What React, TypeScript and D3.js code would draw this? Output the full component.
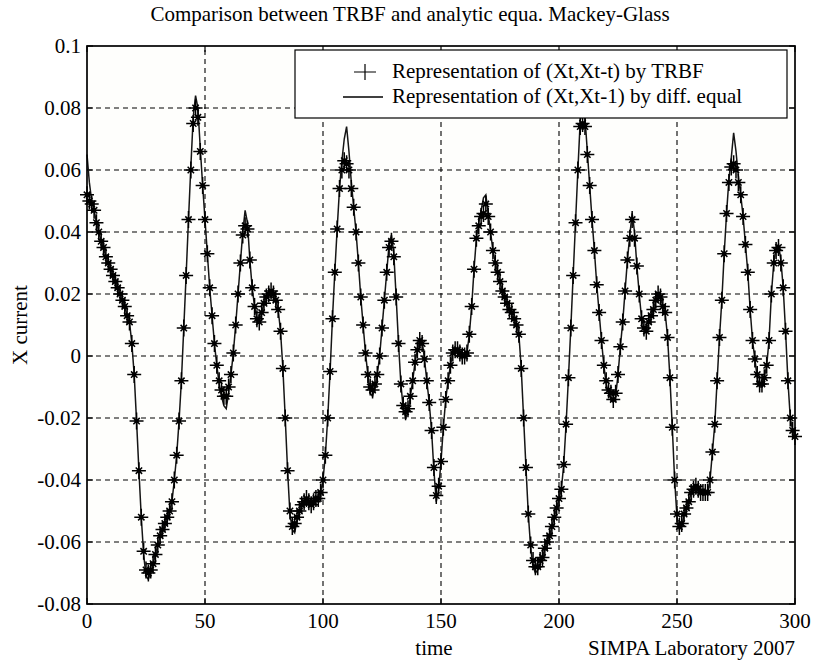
import React from 'react'
import * as d3 from 'd3'

// time axis: one sample per step, 0..300
const xTicks = [0, 50, 100, 150, 200, 250, 300]
const yTicks = [-0.08, -0.06, -0.04, -0.02, 0, 0.02, 0.04, 0.06, 0.08, 0.1]
const yTickLabels = ['-0.08', '-0.06', '-0.04', '-0.02', '0', '0.02', '0.04', '0.06', '0.08', '0.1']

const titleText = 'Comparison between TRBF and analytic equa. Mackey-Glass'
const legendLabels = ['Representation of (Xt,Xt-t) by TRBF', 'Representation of (Xt,Xt-1) by diff. equal']

// TRBF output (+ markers)
const trbf = [
  0.052, 0.050, 0.049, 0.047, 0.043, 0.040, 0.037, 0.035, 0.032, 0.030,
  0.028, 0.026, 0.024, 0.022, 0.020, 0.018, 0.016, 0.013, 0.011, 0.004,
  -0.006, -0.021, -0.037, -0.052, -0.063, -0.069, -0.070, -0.069, -0.067, -0.064,
  -0.061, -0.058, -0.056, -0.054, -0.052, -0.050, -0.047, -0.040, -0.032, -0.021,
  -0.008, 0.009, 0.026, 0.044, 0.060, 0.075, 0.080, 0.077, 0.066, 0.055,
  0.044, 0.033, 0.022, 0.013, 0.004, -0.003, -0.008, -0.011, -0.013, -0.013,
  -0.010, -0.006, 0.001, 0.010, 0.020, 0.030, 0.039, 0.042, 0.041, 0.031,
  0.022, 0.016, 0.012, 0.011, 0.014, 0.017, 0.019, 0.020, 0.021, 0.020,
  0.018, 0.015, 0.008, -0.004, -0.020, -0.037, -0.050, -0.055, -0.054, -0.052,
  -0.050, -0.048, -0.047, -0.046, -0.047, -0.048, -0.047, -0.046, -0.046, -0.044,
  -0.040, -0.032, -0.020, -0.005, 0.012, 0.027, 0.041, 0.054, 0.060, 0.063,
  0.062, 0.060, 0.054, 0.048, 0.040, 0.030, 0.019, 0.010, 0.001, -0.006,
  -0.010, -0.011, -0.009, -0.006, 0.000, 0.009, 0.018, 0.027, 0.035, 0.037,
  0.032, 0.019, 0.004, -0.009, -0.016, -0.018, -0.017, -0.013, -0.008, -0.002,
  0.002, 0.005, 0.004, -0.001, -0.008, -0.015, -0.024, -0.036, -0.045, -0.042,
  -0.034, -0.023, -0.014, -0.008, -0.003, 0.001, 0.002, 0.002, 0.001, 0.000,
  0.000, 0.001, 0.007, 0.016, 0.028, 0.038, 0.042, 0.045, 0.046, 0.049,
  0.045, 0.040, 0.034, 0.030, 0.027, 0.024, 0.021, 0.019, 0.017, 0.015,
  0.014, 0.012, 0.010, 0.007, -0.004, -0.020, -0.036, -0.051, -0.061, -0.066,
  -0.068, -0.068, -0.066, -0.065, -0.062, -0.060, -0.058, -0.055, -0.052, -0.049,
  -0.046, -0.043, -0.035, -0.022, -0.007, 0.009, 0.026, 0.043, 0.060, 0.074,
  0.075, 0.074, 0.065, 0.055, 0.044, 0.034, 0.023, 0.014, 0.005, -0.003,
  -0.008, -0.011, -0.012, -0.014, -0.012, -0.006, 0.003, 0.011, 0.021, 0.031,
  0.038, 0.044, 0.038, 0.029, 0.020, 0.012, 0.009, 0.008, 0.011, 0.013,
  0.015, 0.018, 0.020, 0.019, 0.016, 0.014, 0.006, -0.007, -0.023, -0.040,
  -0.051, -0.055, -0.054, -0.051, -0.049, -0.047, -0.044, -0.043, -0.042, -0.043,
  -0.044, -0.044, -0.044, -0.044, -0.040, -0.031, -0.022, -0.008, 0.006, 0.018,
  0.033, 0.046, 0.056, 0.061, 0.062, 0.060, 0.056, 0.052, 0.045, 0.036,
  0.027, 0.015, 0.005, -0.001, -0.006, -0.009, -0.009, -0.007, -0.003, 0.005,
  0.020, 0.030, 0.034, 0.035, 0.030, 0.022, 0.008, -0.008, -0.020, -0.024,
  -0.026,
]

// difference equation (solid line)
const diffEq = [
  0.065, 0.056, 0.050, 0.047, 0.043, 0.040, 0.037, 0.035, 0.032, 0.030,
  0.028, 0.026, 0.024, 0.022, 0.020, 0.018, 0.016, 0.013, 0.011, 0.004,
  -0.006, -0.021, -0.037, -0.052, -0.064, -0.071, -0.072, -0.070, -0.067, -0.064,
  -0.061, -0.058, -0.056, -0.054, -0.052, -0.050, -0.047, -0.040, -0.032, -0.021,
  -0.008, 0.009, 0.026, 0.044, 0.061, 0.077, 0.084, 0.080, 0.067, 0.055,
  0.044, 0.033, 0.022, 0.013, 0.004, -0.003, -0.009, -0.013, -0.016, -0.017,
  -0.012, -0.006, 0.001, 0.010, 0.020, 0.030, 0.040, 0.047, 0.043, 0.031,
  0.022, 0.016, 0.012, 0.011, 0.014, 0.017, 0.019, 0.020, 0.021, 0.020,
  0.018, 0.015, 0.008, -0.004, -0.020, -0.037, -0.051, -0.056, -0.057, -0.053,
  -0.050, -0.048, -0.047, -0.046, -0.047, -0.048, -0.047, -0.046, -0.046, -0.044,
  -0.040, -0.032, -0.020, -0.005, 0.012, 0.027, 0.041, 0.054, 0.063, 0.070,
  0.074, 0.066, 0.056, 0.048, 0.040, 0.030, 0.019, 0.010, 0.001, -0.006,
  -0.012, -0.013, -0.010, -0.006, 0.000, 0.009, 0.018, 0.027, 0.036, 0.039,
  0.033, 0.019, 0.004, -0.009, -0.017, -0.020, -0.018, -0.013, -0.008, -0.002,
  0.002, 0.005, 0.005, -0.001, -0.008, -0.015, -0.024, -0.037, -0.047, -0.043,
  -0.034, -0.023, -0.014, -0.008, -0.003, 0.001, 0.002, 0.002, 0.001, 0.000,
  0.000, 0.001, 0.007, 0.016, 0.028, 0.038, 0.043, 0.047, 0.051, 0.052,
  0.046, 0.040, 0.034, 0.030, 0.027, 0.024, 0.021, 0.019, 0.017, 0.015,
  0.014, 0.012, 0.010, 0.007, -0.004, -0.020, -0.036, -0.051, -0.062, -0.068,
  -0.070, -0.069, -0.067, -0.065, -0.062, -0.060, -0.058, -0.055, -0.052, -0.049,
  -0.046, -0.043, -0.035, -0.022, -0.007, 0.009, 0.026, 0.043, 0.060, 0.076,
  0.080, 0.077, 0.066, 0.055, 0.044, 0.034, 0.023, 0.014, 0.005, -0.003,
  -0.009, -0.012, -0.014, -0.015, -0.013, -0.006, 0.003, 0.011, 0.021, 0.031,
  0.039, 0.046, 0.040, 0.029, 0.020, 0.012, 0.009, 0.008, 0.011, 0.013,
  0.015, 0.018, 0.020, 0.019, 0.016, 0.014, 0.006, -0.007, -0.023, -0.040,
  -0.052, -0.056, -0.055, -0.051, -0.049, -0.047, -0.044, -0.043, -0.042, -0.043,
  -0.044, -0.044, -0.044, -0.044, -0.040, -0.031, -0.022, -0.008, 0.006, 0.018,
  0.033, 0.046, 0.057, 0.064, 0.072, 0.066, 0.058, 0.052, 0.045, 0.036,
  0.027, 0.015, 0.005, -0.001, -0.007, -0.010, -0.010, -0.007, -0.003, 0.005,
  0.020, 0.030, 0.035, 0.036, 0.031, 0.022, 0.008, -0.008, -0.020, -0.024,
  -0.026,
]

const W = 814
const H = 663
const margin = { top: 46, right: 19, bottom: 59, left: 87 }
const textStyle = { fontFamily: "'Liberation Serif', 'Times New Roman', serif", fontSize: '21px' }

export default function App() {
  const x = d3.scaleLinear().domain([0, 300]).range([margin.left, W - margin.right])
  const y = d3.scaleLinear().domain([-0.08, 0.1]).range([H - margin.bottom, margin.top])

  const line = d3.line<number>()
    .x((d, i) => x(i))
    .y(d => y(d))

  const x0 = x(0), x1 = x(300), y0 = y(-0.08), y1 = y(0.1)
  const plus = 'M-7,0H7M0,-8.5V8.5M-3.2,-3.2L3.2,3.2M-3.2,3.2L3.2,-3.2'

  // legend box
  const lg = { x: 295, y: 50, w: 492, h: 68 }

  return (
    <svg width={W} height={H} style={{ position: 'absolute', left: 0, top: 0, background: '#fff' }}>
      <rect x={x0} y={y1} width={x1 - x0} height={y0 - y1} fill="#fefefc" />

      {/* grid */}
      <g stroke="#000" strokeWidth={1.1} strokeDasharray="5,4">
        {xTicks.slice(1, -1).map(t => <line key={'gx' + t} x1={x(t)} x2={x(t)} y1={y0} y2={y1} />)}
        {yTicks.slice(1, -1).map(t => <line key={'gy' + t} x1={x0} x2={x1} y1={y(t)} y2={y(t)} />)}
      </g>

      {/* ticks, inside, all four sides */}
      <g stroke="#000" strokeWidth={1.2}>
        {xTicks.map(t => <line key={'tb' + t} x1={x(t)} x2={x(t)} y1={y0} y2={y0 - 6} />)}
        {xTicks.map(t => <line key={'tt' + t} x1={x(t)} x2={x(t)} y1={y1} y2={y1 + 6} />)}
        {yTicks.map(t => <line key={'tl' + t} x1={x0} x2={x0 + 6} y1={y(t)} y2={y(t)} />)}
        {yTicks.map(t => <line key={'tr' + t} x1={x1} x2={x1 - 6} y1={y(t)} y2={y(t)} />)}
      </g>

      <path d={line(diffEq) || ''} fill="none" stroke="#151515" strokeWidth={1.5} />

      <g stroke="#000" strokeWidth={1.5} fill="#000">
        {trbf.map((v, i) => (
          <g key={i} transform={`translate(${x(i)},${y(v)})`}>
            <path d={plus} fill="none" />
            <circle r={2.2} stroke="none" />
          </g>
        ))}
      </g>

      <rect x={x0} y={y1} width={x1 - x0} height={y0 - y1} fill="none" stroke="#000" strokeWidth={1.7} />

      <g style={textStyle} fill="#000">
        {/* tick labels */}
        {yTicks.map((t, i) => (
          <text key={'yl' + t} x={x0 - 6} y={y(t)} dy="0.35em" textAnchor="end">{yTickLabels[i]}</text>
        ))}
        {xTicks.map(t => (
          <text key={'xl' + t} x={x(t)} y={y0 + 24} textAnchor="middle">{t}</text>
        ))}

        <text x={410} y={21} textAnchor="middle">{titleText}</text>
        <text x={434} y={655} textAnchor="middle">time</text>
        <text x={x1} y={655} textAnchor="end">SIMPA Laboratory 2007</text>
        <text transform={`translate(27,${(y0 + y1) / 2}) rotate(-90)`} textAnchor="middle">X current</text>

        {/* legend */}
        <rect x={lg.x} y={lg.y} width={lg.w} height={lg.h} fill="#fff" stroke="#000" strokeWidth={1.2} />
        <path d={`M${lg.x + 59},${lg.y + 22}h22M${lg.x + 70},${lg.y + 14}v16`} stroke="#000" strokeWidth={1.2} />
        <line x1={lg.x + 48} x2={lg.x + 88} y1={lg.y + 47} y2={lg.y + 47} stroke="#000" strokeWidth={1.4} />
        <text x={lg.x + 97} y={lg.y + 28}>{legendLabels[0]}</text>
        <text x={lg.x + 97} y={lg.y + 53}>{legendLabels[1]}</text>
      </g>
    </svg>
  )
}
